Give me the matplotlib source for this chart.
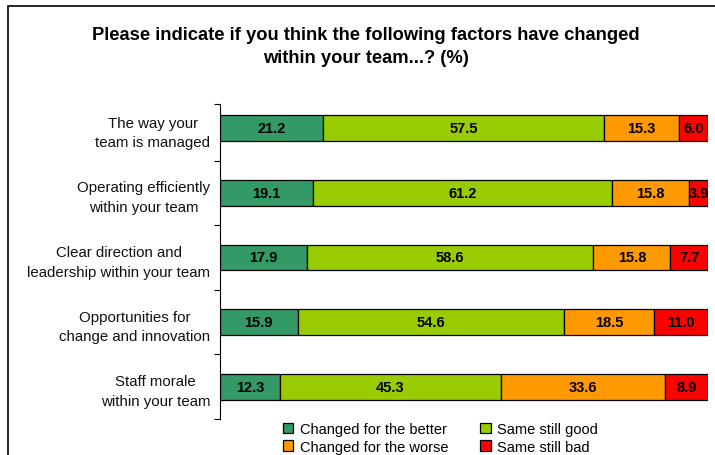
import matplotlib.pyplot as plt
from matplotlib.patches import Rectangle

plt.rcParams['font.family'] = ['Liberation Sans', 'DejaVu Sans']

categories = ['The way your\nteam is managed',
              'Operating efficiently\nwithin your team',
              'Clear direction and\nleadership within your team',
              'Opportunities for\nchange and innovation',
              'Staff morale\nwithin your team']
better = [21.2, 19.1, 17.9, 15.9, 12.3]
same_good = [57.5, 61.2, 58.6, 54.6, 45.3]
worse = [15.3, 15.8, 15.8, 18.5, 33.6]
same_bad = [6.0, 3.9, 7.7, 11.0, 8.9]

series = [('Changed for the better', better, '#339966'),
          ('Same still good', same_good, '#99CC00'),
          ('Changed for the worse', worse, '#FF9900'),
          ('Same still bad', same_bad, '#FF0000')]

fig = plt.figure(figsize=(7.15, 4.56), dpi=100)
ax = fig.add_axes([220 / 715, 1 - 420 / 456, 488 / 715, 323 / 456])

ypos = list(range(len(categories)))
left = [0.0] * len(categories)
bars = []
for name, vals, col in series:
    b = ax.barh(ypos, vals, left=left, height=0.4, color=col,
                edgecolor='black', linewidth=0.9, label=name)
    bars.append(b)
    for y, l, v in zip(ypos, left, vals):
        ax.text(l + v / 2, y, f'{v:.1f}', ha='center', va='center',
                fontsize=10.5, fontweight='bold', color='black')
    left = [l + v for l, v in zip(left, vals)]

ax.set_xlim(0, 100)
ax.set_ylim(len(categories) - 0.5, -0.5)
ax.set_xticks([])
ax.set_yticks(ypos)
ax.set_yticklabels(categories, fontsize=10.8, ha='right', multialignment='center',
                   linespacing=1.5, color='#111111')
ax.tick_params(axis='y', which='major', length=0, pad=7)
top = -0.38
ax.set_yticks([top] + [i + 0.5 for i in range(len(categories))], minor=True)
ax.tick_params(axis='y', which='minor', length=4, width=0.8)
for s in ['top', 'right', 'bottom']:
    ax.spines[s].set_visible(False)
ax.spines['left'].set_linewidth(0.8)
ax.spines['left'].set_bounds(len(categories) - 0.5, top)

fig.suptitle('Please indicate if you think the following factors have changed\nwithin your team...? (%)',
             x=0.512, y=0.94, fontsize=13.2, fontweight='bold', linespacing=1.45)

# outer frame of the chart area
fig.patches.append(Rectangle((8 / 715, -0.1), 1.2, 1 - 7 / 456 + 0.1,
                             transform=fig.transFigure, fill=False,
                             edgecolor='black', linewidth=1.2))

handles = [bars[0], bars[2], bars[1], bars[3]]
labels = [h.get_label() for h in handles]
fig.legend(handles, labels, ncol=2, loc='upper left',
           bbox_to_anchor=(283 / 715, 1 - 423 / 456), frameon=False,
           fontsize=10.5, handlelength=0.7, handleheight=0.7,
           handletextpad=0.45, columnspacing=2.2, labelspacing=0.25,
           borderaxespad=0, borderpad=0)

fig.savefig('out.png', dpi=100)
